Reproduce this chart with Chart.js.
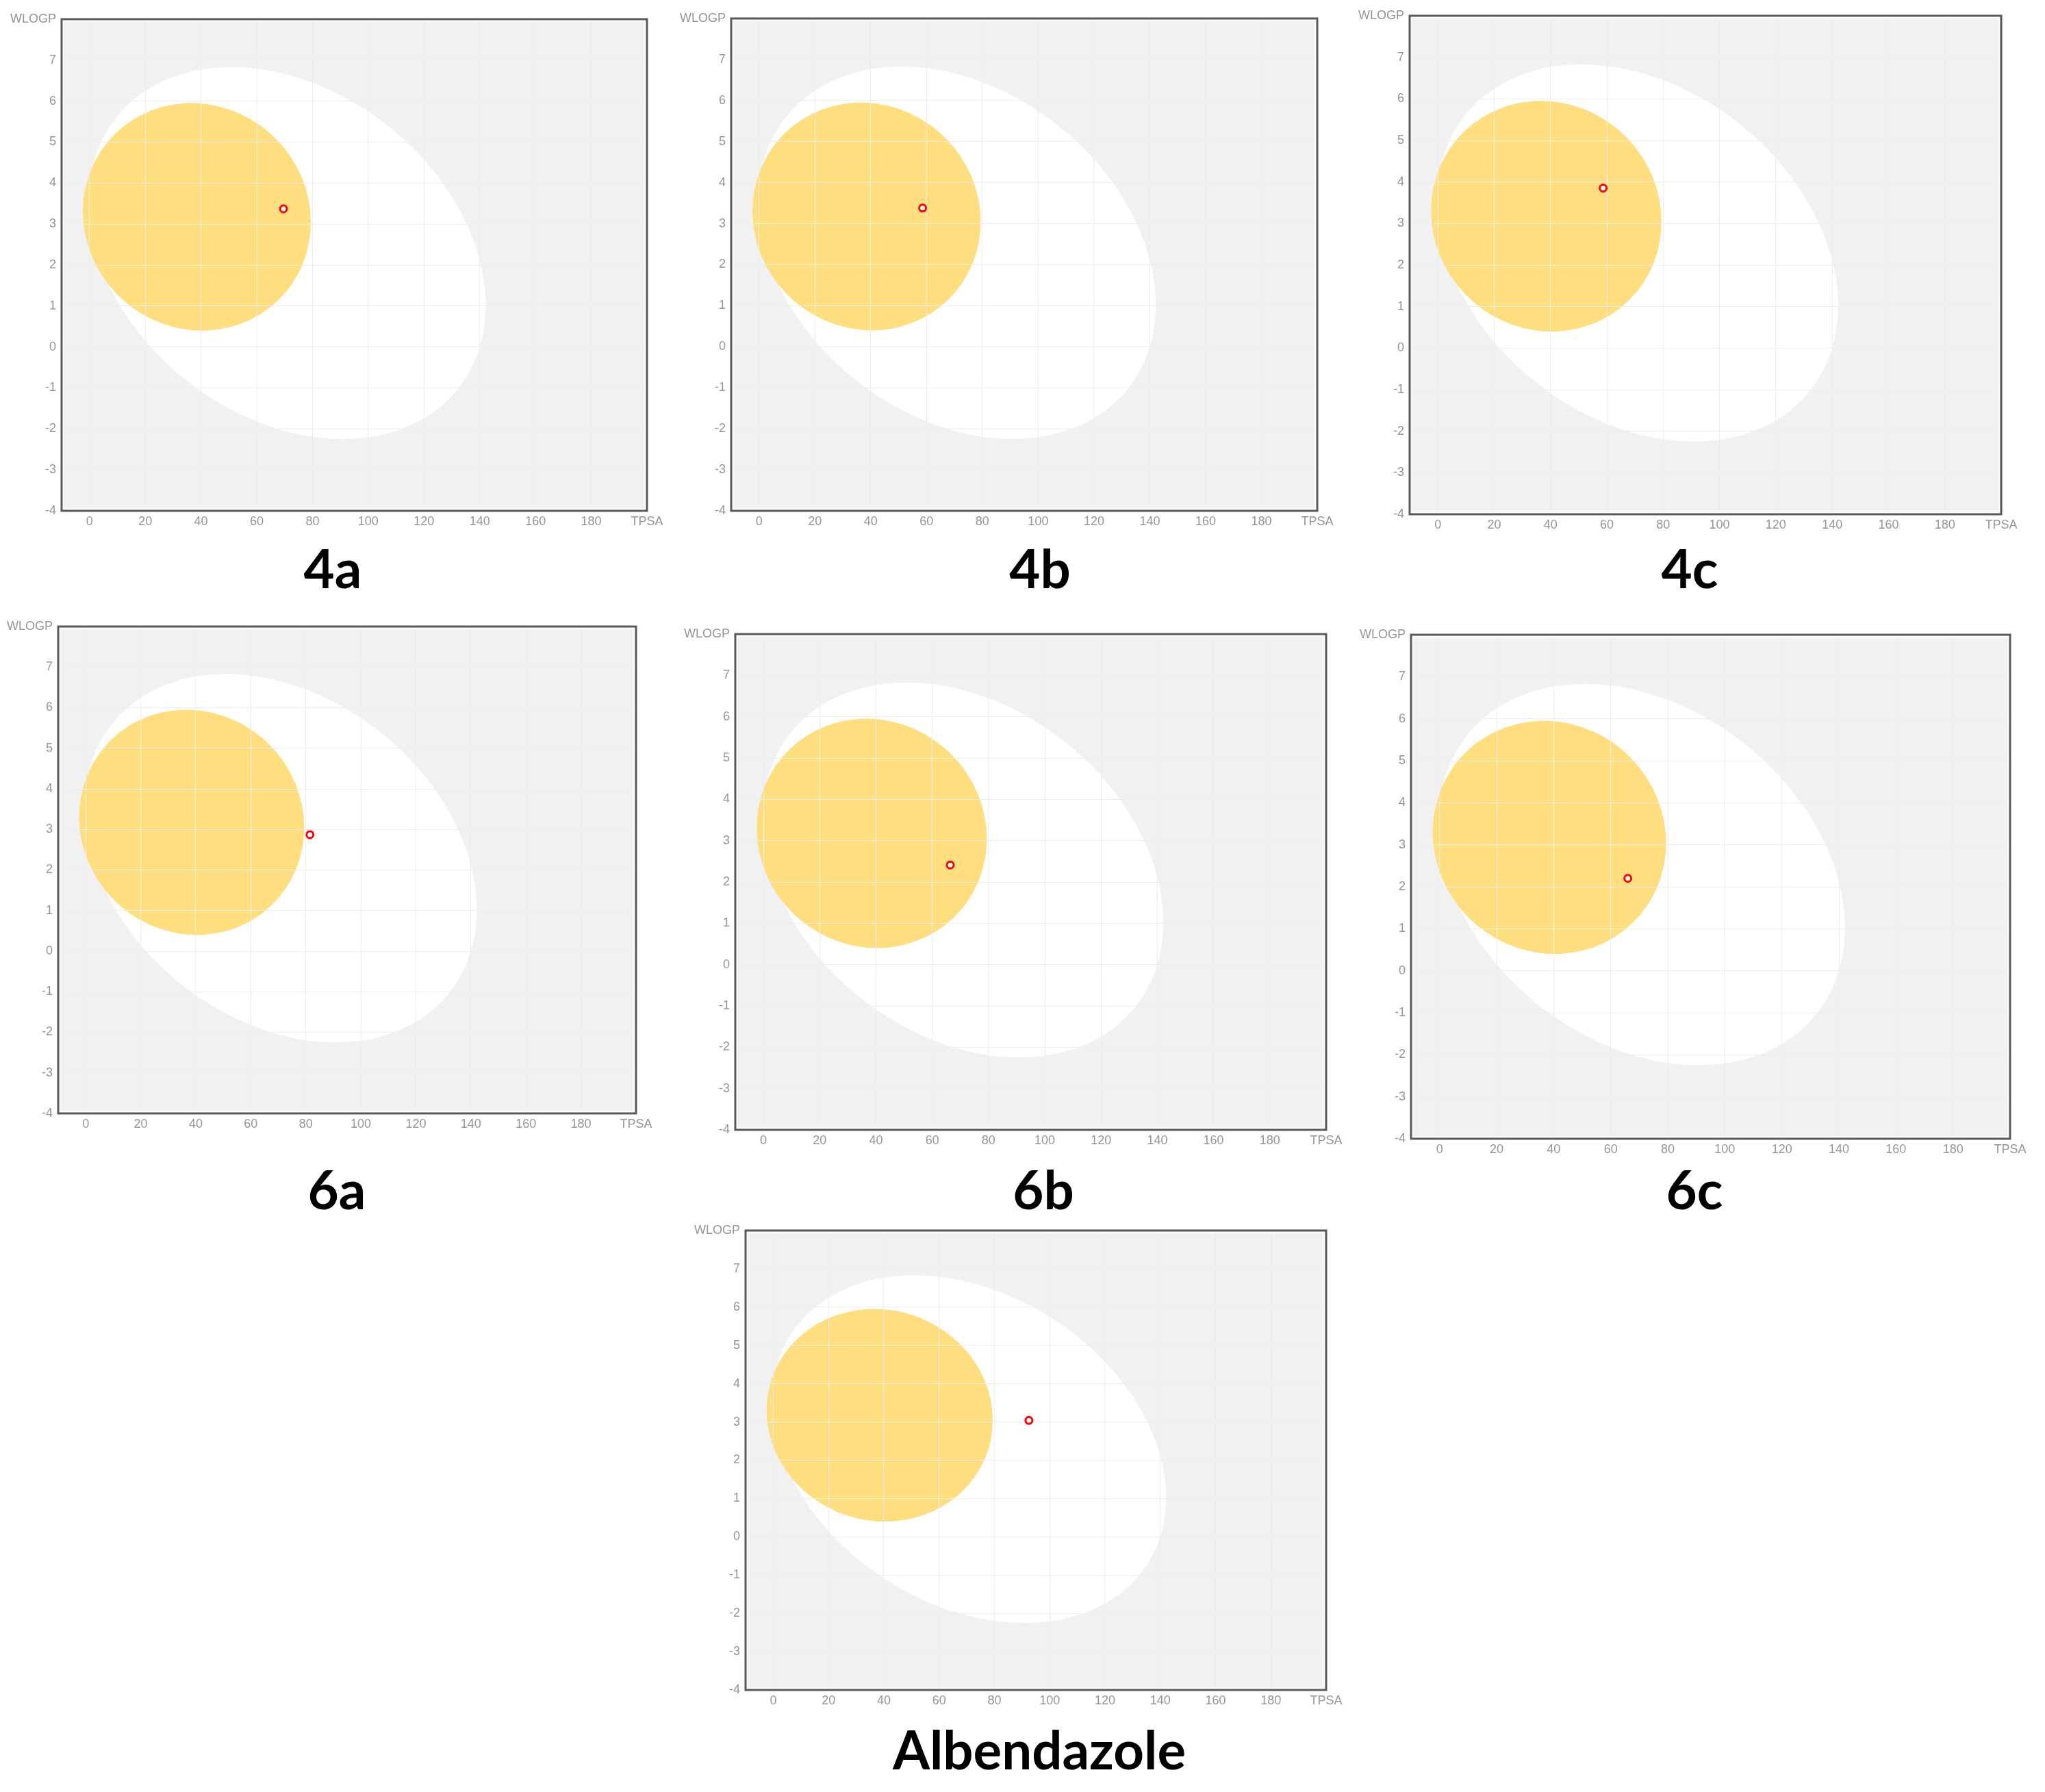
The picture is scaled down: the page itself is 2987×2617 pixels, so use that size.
<!DOCTYPE html>
<html>
<head>
<meta charset="utf-8">
<title>BOILED-Egg plots</title>
<script src="https://cdn.jsdelivr.net/npm/chart.js@4.4.1/dist/chart.umd.min.js"></script>
<style>
    body { margin: 0; background: #ffffff; }
    #page { position: relative; width: 2987px; height: 2617px; overflow: hidden; }
    .panel { position: absolute; }
    .caption {
        position: absolute;
        transform: translateX(-50%);
        font-family: Lato, 'Open Sans', sans-serif;
        font-weight: 700;
        font-size: 78px;
        line-height: 1.2;
        color: #000000;
        white-space: nowrap;
    }
</style>
</head>
<body>
<div id="page"></div>
<script>
// molecules and their place in the egg
const compounds = ['4a', '4b', '4c', '6a', '6b', '6c', 'Albendazole'];
const tpsaValues = [69.6, 58.6, 58.7, 81.5, 66.4, 66.0, 92.5];
const wlogpValues = [3.37, 3.38, 3.85, 2.87, 2.41, 2.20, 3.04];

// ticks, the last one of each axis carries the axis name
const xTickValues = [0, 20, 40, 60, 80, 100, 120, 140, 160, 180, 200];
const xTickLabels = ['0', '20', '40', '60', '80', '100', '120', '140', '160', '180', 'TPSA'];
const yTickValues = [-4, -3, -2, -1, 0, 1, 2, 3, 4, 5, 6, 7, 8];
const yTickLabels = ['-4', '-3', '-2', '-1', '0', '1', '2', '3', '4', '5', '6', '7', 'WLOGP'];

// egg white (HIA) and yolk (BBB): centre in TPSA / WLOGP,
// radii in grid cells (20 TPSA wide, 1 WLOGP high), angle in degrees
const hiaEllipse = { cx: 70.9, cy: 2.29, rx: 4.76, ry: 3.26, angle: -65.6 };
const bbbEllipse = { cx: 38.5, cy: 3.175, rx: 2.04, ry: 2.78, angle: 4.3 };

// where each plot frame and caption sits on the page
const panelBoxes = [
    { left: 90,   top: 28,   right: 945,  bottom: 746,  capX: 486,  capBase: 860 },
    { left: 1068, top: 27,   right: 1924, bottom: 746,  capX: 1519, capBase: 860 },
    { left: 2059, top: 23,   right: 2923, bottom: 751,  capX: 2468, capBase: 860 },
    { left: 85,   top: 915,  right: 929,  bottom: 1626, capX: 492,  capBase: 1767 },
    { left: 1074, top: 926,  right: 1937, bottom: 1650, capX: 1524, capBase: 1767 },
    { left: 2061, top: 927,  right: 2936, bottom: 1663, capX: 2475, capBase: 1767 },
    { left: 1089, top: 1797, right: 1937, bottom: 2468, capX: 1518, capBase: 2585 }
];

const Y_AXIS_W = 85;
const X_AXIS_H = 45;
const PAD_TOP = 25;
const PAD_RIGHT = 40;

Chart.defaults.font.family = "'Liberation Sans', Arial, sans-serif";
Chart.defaults.font.size = 18;
Chart.defaults.color = '#959595';

function drawEllipse(ctx, x, y, e, color) {
    const px = x.getPixelForValue(e.cx);
    const py = y.getPixelForValue(e.cy);
    const cellW = x.getPixelForValue(e.cx + 20) - px;
    const cellH = py - y.getPixelForValue(e.cy + 1);
    ctx.save();
    ctx.translate(px, py);
    ctx.scale(cellW, -cellH);
    ctx.rotate(e.angle * Math.PI / 180);
    ctx.beginPath();
    ctx.ellipse(0, 0, e.rx, e.ry, 0, 0, Math.PI * 2);
    ctx.restore();
    ctx.fillStyle = color;
    ctx.fill();
}

// gray background + egg under the grid, frame on top
const eggPlugin = {
    id: 'egg',
    beforeDraw(chart) {
        const { ctx, chartArea: a, scales } = chart;
        ctx.save();
        ctx.fillStyle = '#f1f1f1';
        ctx.fillRect(a.left, a.top, a.width, a.height);
        ctx.beginPath();
        ctx.rect(a.left, a.top, a.width, a.height);
        ctx.clip();
        drawEllipse(ctx, scales.x, scales.y, hiaEllipse, '#ffffff');
        drawEllipse(ctx, scales.x, scales.y, bbbEllipse, '#ffde80');
        ctx.restore();
    },
    afterDraw(chart) {
        const { ctx, chartArea: a } = chart;
        ctx.save();
        ctx.strokeStyle = '#ffffff';
        ctx.lineWidth = 2;
        ctx.strokeRect(a.left + 2.5, a.top + 2.5, a.width - 5, a.height - 5);
        ctx.strokeStyle = '#5a5a5a';
        ctx.lineWidth = 3;
        ctx.strokeRect(a.left, a.top, a.width, a.height);
        ctx.restore();
    }
};

function makePanel(i) {
    const box = panelBoxes[i];
    const w = (box.right - box.left) + Y_AXIS_W + PAD_RIGHT;
    const h = (box.bottom - box.top) + PAD_TOP + X_AXIS_H;

    const holder = document.createElement('div');
    holder.className = 'panel';
    holder.style.left = (box.left - Y_AXIS_W) + 'px';
    holder.style.top = (box.top - PAD_TOP) + 'px';
    const canvas = document.createElement('canvas');
    canvas.width = w;
    canvas.height = h;
    canvas.style.width = w + 'px';
    canvas.style.height = h + 'px';
    holder.appendChild(canvas);
    document.getElementById('page').appendChild(holder);

    const cap = document.createElement('div');
    cap.className = 'caption';
    cap.innerText = compounds[i];
    cap.style.left = box.capX + 'px';
    cap.style.top = (box.capBase - 77) + 'px';
    document.getElementById('page').appendChild(cap);

    new Chart(canvas.getContext('2d'), {
        type: 'scatter',
        data: {
            datasets: [{
                label: compounds[i],
                data: [{ x: tpsaValues[i], y: wlogpValues[i] }],
                pointRadius: 5,
                pointBorderWidth: 3,
                pointBorderColor: '#ff0000',
                pointBackgroundColor: '#ffffff'
            }]
        },
        options: {
            responsive: false,
            animation: false,
            devicePixelRatio: 1,
            layout: { padding: { top: PAD_TOP, right: PAD_RIGHT, left: 0, bottom: 0 } },
            plugins: { legend: { display: false }, tooltip: { enabled: false } },
            scales: {
                x: {
                    type: 'linear',
                    min: -10,
                    max: 200,
                    afterBuildTicks: s => { s.ticks = xTickValues.map(v => ({ value: v })); },
                    afterFit: s => { s.height = X_AXIS_H; },
                    ticks: {
                        autoSkip: false,
                        maxRotation: 0,
                        padding: 5,
                        callback: v => xTickLabels[xTickValues.indexOf(v)]
                    },
                    grid: { color: '#ececec', drawTicks: false },
                    border: { display: false }
                },
                y: {
                    type: 'linear',
                    min: -4,
                    max: 8,
                    afterBuildTicks: s => { s.ticks = yTickValues.map(v => ({ value: v })); },
                    afterFit: s => { s.width = Y_AXIS_W; },
                    ticks: {
                        autoSkip: false,
                        padding: 8,
                        callback: v => yTickLabels[yTickValues.indexOf(v)]
                    },
                    grid: { color: '#ececec', drawTicks: false },
                    border: { display: false }
                }
            }
        },
        plugins: [eggPlugin]
    });
}

compounds.forEach((c, i) => makePanel(i));
</script>
</body>
</html>
